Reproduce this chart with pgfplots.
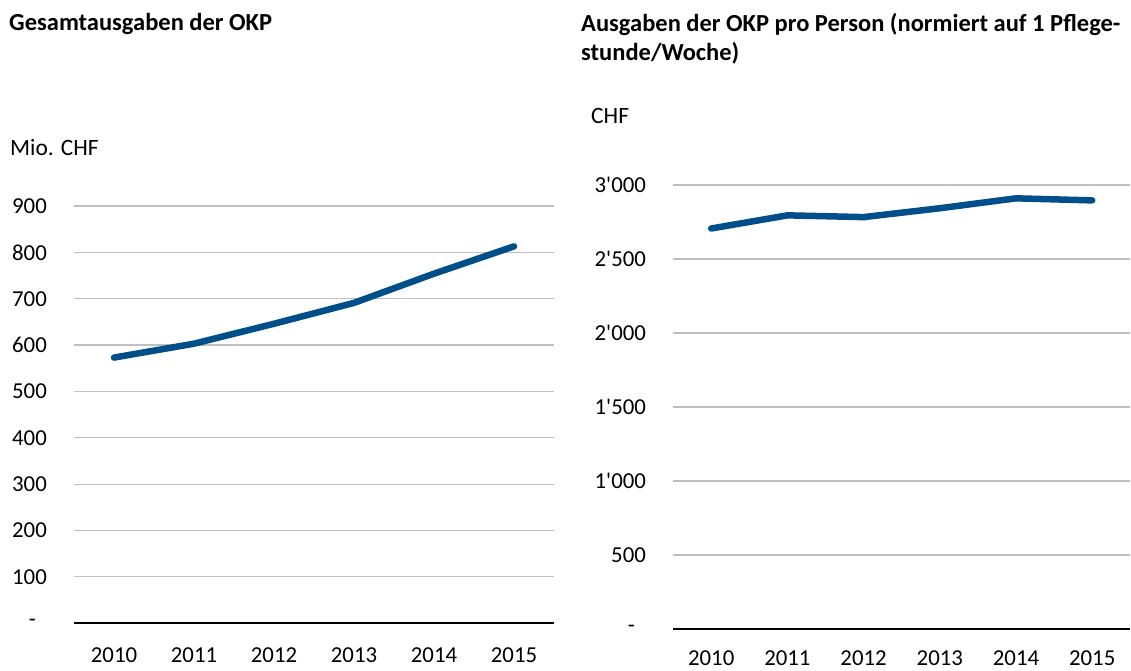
\documentclass[border=0pt]{standalone}
\usepackage{pgfplots}
\pgfplotsset{compat=1.18}
\usepackage{fontspec}
\setmainfont{Carlito}
\definecolor{okpblue}{RGB}{0,78,138}
\definecolor{gridgray}{RGB}{191,191,191}
\newcommand{\tickfont}{\fontsize{22.8}{27}\selectfont}
\newcommand{\lblfont}{\fontsize{23.4}{28}\selectfont}
\newcommand{\ttlfont}{\bfseries\fontsize{24.5}{30}\selectfont}
\newcommand{\q}{\textquotesingle}
\pgfplotsset{
  okpstyle/.style={
    scale only axis,
    anchor=south west,
    axis lines*=left,
    y axis line style={draw=none},
    x axis line style={draw=black, line width=1.5pt, -},
    major tick length=0pt,
    ymajorgrids,
    major grid style={draw=gridgray, line width=1.2pt},
    xmin=-0.5, xmax=5.5,
    xtick={0,1,2,3,4,5},
    xticklabels={2010,2011,2012,2013,2014,2015},
    xticklabel style={font=\tickfont, anchor=north, inner sep=0pt, yshift=-24pt},
    yticklabel style={font=\tickfont, anchor=east, inner sep=0pt, xshift=-27pt},
    clip=false,
  }
}
\begin{document}
\begin{tikzpicture}
\useasboundingbox (0,0) rectangle (1131pt,670pt);
% left panel
\begin{axis}[okpstyle,
  at={(74pt,46.8pt)}, width=480pt, height=417.2pt,
  ymin=0, ymax=900,
  ytick={0,100,200,300,400,500,600,700,800,900},
  yticklabels={-\hspace*{11pt},100,200,300,400,500,600,700,800,900},
]
\addplot[color=okpblue, line width=6.5pt, line cap=round, line join=round]
  coordinates {(0,573) (1,603) (2,646) (3,691) (4,754) (5,813)};
\end{axis}
% right panel
\begin{axis}[okpstyle,
  at={(673.1pt,41pt)}, width=457.2pt, height=444pt,
  ymin=0, ymax=3000,
  ytick={0,500,1000,1500,2000,2500,3000},
  yticklabels={-\hspace*{11pt},500,1\q000,1\q500,2\q000,2\q500,3\q000},
  xticklabel style={yshift=3pt},
]
\addplot[color=okpblue, line width=6.5pt, line cap=round, line join=round]
  coordinates {(0,2706) (1,2795) (2,2783) (3,2843) (4,2910) (5,2896)};
\end{axis}
\node[anchor=base west, inner sep=0pt, font=\ttlfont] at (9pt,639pt) {Gesamtausgaben der OKP};
\node[anchor=base west, inner sep=0pt, font=\lblfont] at (10pt,514pt) {Mio. CHF};
\node[anchor=base west, inner sep=0pt, font=\ttlfont] at (581pt,638.5pt) {Ausgaben der OKP pro Person (normiert auf 1 Pflege-};
\node[anchor=base west, inner sep=0pt, font=\ttlfont] at (581pt,609.5pt) {stunde/Woche)};
\node[anchor=base west, inner sep=0pt, font=\lblfont] at (591pt,546.7pt) {CHF};
\end{tikzpicture}
\end{document}
